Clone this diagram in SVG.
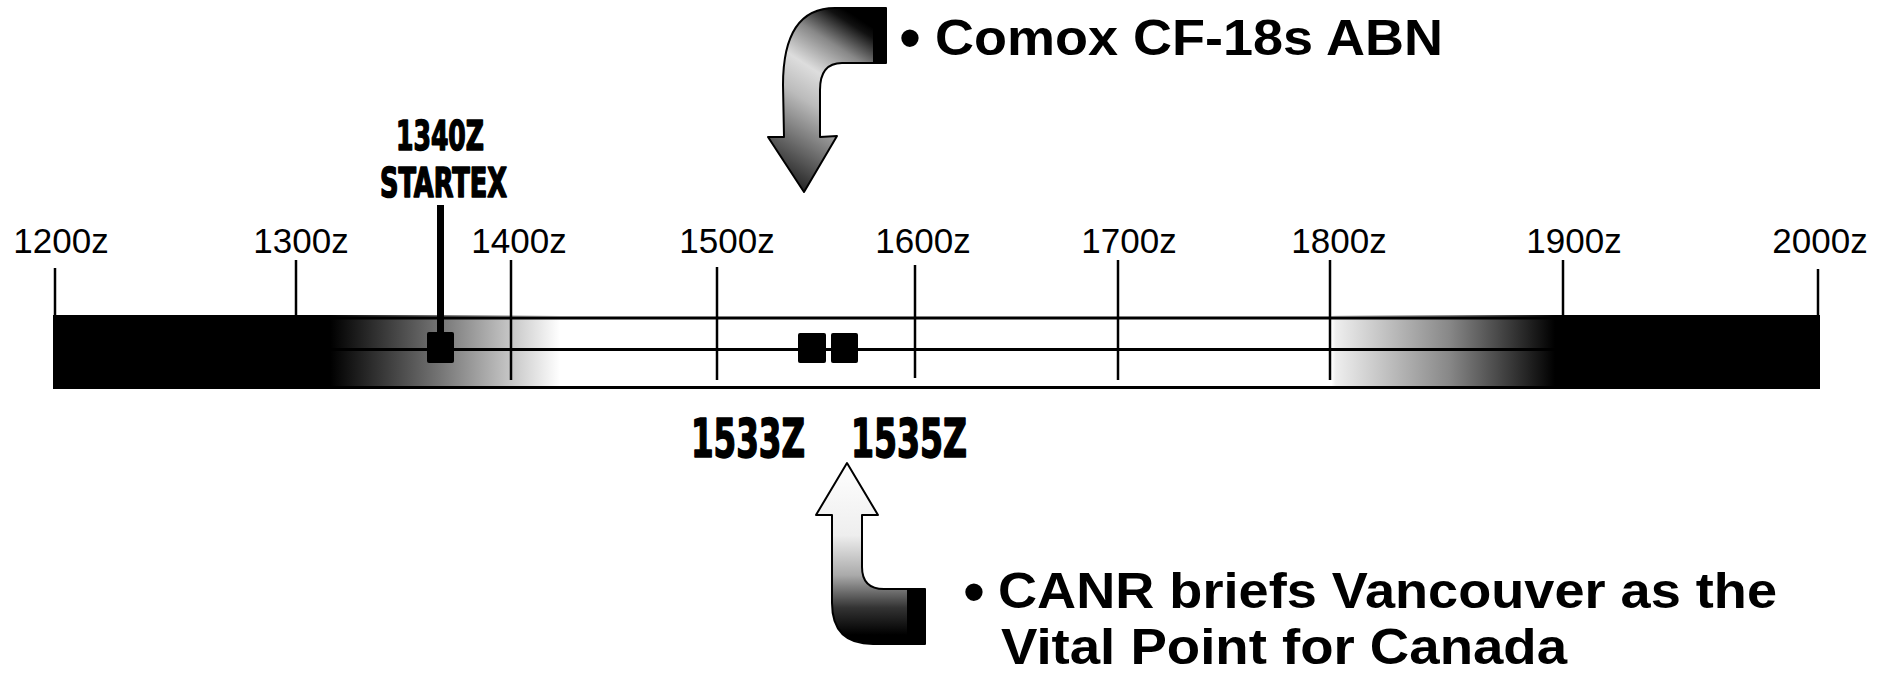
<svg xmlns="http://www.w3.org/2000/svg" width="1892" height="676" viewBox="0 0 1892 676">
<style>
.tick{stroke:#000;stroke-width:2.5;fill:none}
.rule{stroke:#000;stroke-width:3;fill:none}
.lbl{font-family:"Liberation Sans",Arial,sans-serif;font-size:35px;fill:#000;text-anchor:middle}
.cond{font-family:"Liberation Sans Narrow","DejaVu Sans Condensed","Liberation Sans",sans-serif;font-weight:bold;fill:#000;stroke:#000;stroke-width:1.6;stroke-linejoin:round}
.big{font-family:"Liberation Sans",Arial,sans-serif;font-weight:bold;font-size:50px;fill:#000}
.bul{font-family:"Liberation Sans",Arial,sans-serif;font-size:64px;fill:#000;text-anchor:middle}
.arrow{stroke:#000;stroke-width:2;stroke-linejoin:round}
</style>
<defs>
<linearGradient id="gBar" gradientUnits="userSpaceOnUse" x1="53" y1="0" x2="1820" y2="0">
<stop offset="0" stop-color="#000"/>
<stop offset="0.157" stop-color="#000"/>
<stop offset="0.22" stop-color="#777"/>
<stop offset="0.287" stop-color="#fff"/>
<stop offset="0.7235" stop-color="#fff"/>
<stop offset="0.726" stop-color="#eee"/>
<stop offset="0.79" stop-color="#888"/>
<stop offset="0.85" stop-color="#000"/>
<stop offset="1" stop-color="#000"/>
</linearGradient>
<linearGradient id="gDown" gradientUnits="userSpaceOnUse" x1="886" y1="36" x2="790" y2="185">
<stop offset="0" stop-color="#000"/>
<stop offset="0.05" stop-color="#111"/>
<stop offset="0.2" stop-color="#888"/>
<stop offset="0.38" stop-color="#ddd"/>
<stop offset="0.55" stop-color="#bbb"/>
<stop offset="0.75" stop-color="#777"/>
<stop offset="1" stop-color="#222"/>
</linearGradient>
<linearGradient id="gUp" gradientUnits="userSpaceOnUse" x1="0" y1="463" x2="0" y2="644">
<stop offset="0" stop-color="#fff"/>
<stop offset="0.4" stop-color="#eee"/>
<stop offset="0.62" stop-color="#aaa"/>
<stop offset="0.8" stop-color="#333"/>
<stop offset="0.95" stop-color="#000"/>
</linearGradient>
</defs>

<g id="timeline">
<rect x="53" y="315" width="1767" height="74" fill="url(#gBar)"/>
<line class="rule" x1="53" y1="318" x2="1820" y2="318"/>
<line class="rule" x1="53" y1="349.5" x2="1820" y2="349.5"/>
<line class="rule" x1="53" y1="387.5" x2="1820" y2="387.5"/>
</g>

<g id="ticks">
<line class="tick" x1="55" y1="268" x2="55" y2="316"/>
<line class="tick" x1="296" y1="260" x2="296" y2="316"/>
<line class="tick" x1="511" y1="260" x2="511" y2="380"/>
<line class="tick" x1="717" y1="267" x2="717" y2="380"/>
<line class="tick" x1="915" y1="265" x2="915" y2="378"/>
<line class="tick" x1="1118" y1="260" x2="1118" y2="380"/>
<line class="tick" x1="1330" y1="260" x2="1330" y2="380"/>
<line class="tick" x1="1563" y1="260" x2="1563" y2="316"/>
<line class="tick" x1="1818" y1="269" x2="1818" y2="316"/>
<text class="lbl" x="61" y="253">1200z</text>
<text class="lbl" x="301" y="253">1300z</text>
<text class="lbl" x="519" y="253">1400z</text>
<text class="lbl" x="727" y="253">1500z</text>
<text class="lbl" x="923" y="253">1600z</text>
<text class="lbl" x="1129" y="253">1700z</text>
<text class="lbl" x="1339" y="253">1800z</text>
<text class="lbl" x="1574" y="253">1900z</text>
<text class="lbl" x="1820" y="253">2000z</text>
</g>

<g id="startex">
<rect x="437" y="205" width="7" height="130" fill="#000"/>
<rect x="427" y="332" width="27" height="31" rx="2" fill="#000"/>
<text class="cond" x="396" y="150" font-size="41" textLength="88" lengthAdjust="spacingAndGlyphs">1340Z</text>
<text class="cond" x="380" y="197" font-size="40" textLength="127" lengthAdjust="spacingAndGlyphs">STARTEX</text>
</g>

<g id="event-1533">
<rect x="798" y="333" width="28" height="30" rx="2" fill="#000"/>
<text class="cond" x="691" y="457" font-size="53" textLength="114" lengthAdjust="spacingAndGlyphs">1533Z</text>
</g>

<g id="event-1535">
<rect x="831" y="333" width="27" height="30" rx="2" fill="#000"/>
<text class="cond" x="851" y="457" font-size="53" textLength="116" lengthAdjust="spacingAndGlyphs">1535Z</text>
</g>

<g id="connectors">
<path class="arrow" fill="url(#gDown)" d="M 886 8 L 835 8 Q 783 8 783 85 L 784 137 L 768 137 L 804 192 L 837 136 L 820 137 L 820 90 Q 820 63 842 63 L 886 63 Z"/>
<rect x="873" y="8" width="13" height="55" fill="#000"/>
<path class="arrow" fill="url(#gUp)" d="M 847 463 L 878 515 L 862 515 L 862 567 Q 862 589 884 589 L 925 589 L 925 644 L 873 644 Q 832 644 832 603 L 832 515 L 816 515 Z"/>
<rect x="907" y="589" width="18" height="55" fill="#000"/>
</g>

<g id="label-comox">
<text class="bul" x="910" y="60">•</text>
<text class="big" x="935" y="55" textLength="508" lengthAdjust="spacingAndGlyphs">Comox CF-18s ABN</text>
</g>

<g id="label-canr">
<text class="bul" x="974" y="614">•</text>
<text class="big" x="998" y="608" textLength="779" lengthAdjust="spacingAndGlyphs">CANR briefs Vancouver as the</text>
<text class="big" x="1001" y="664" textLength="566" lengthAdjust="spacingAndGlyphs">Vital Point for Canada</text>
</g>
</svg>
